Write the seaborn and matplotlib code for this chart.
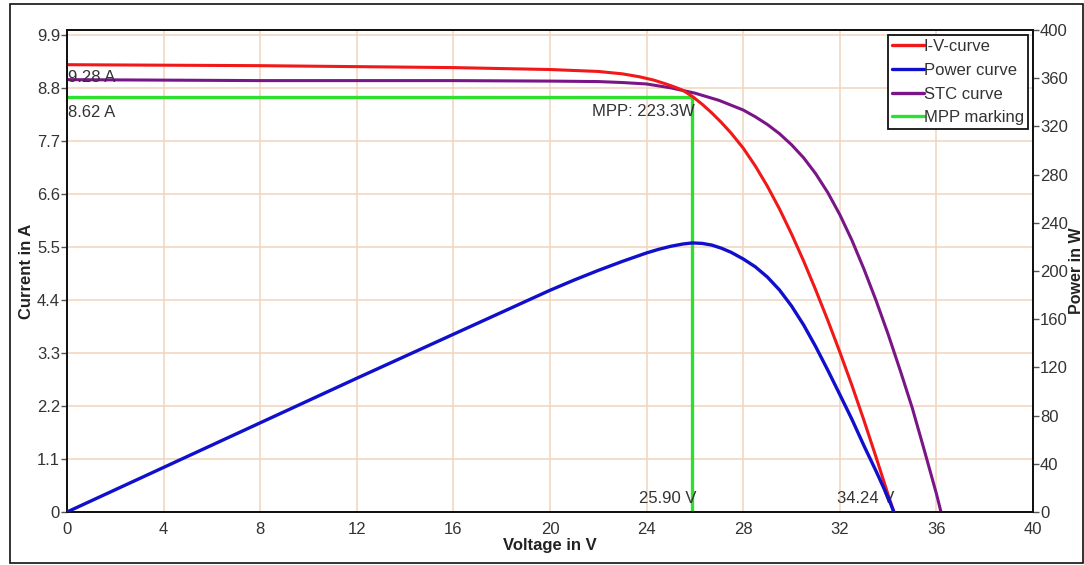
import matplotlib
matplotlib.use("Agg")
import matplotlib.pyplot as plt
import seaborn as sns
import pandas as pd
from matplotlib.patches import Rectangle
from matplotlib.lines import Line2D

# ---------------- data ----------------
voltage_iv = [0, 4, 8, 12, 16, 20, 22, 23, 23.7, 24.3, 24.8, 25.2, 25.5, 25.9,
              26.3, 26.7, 27.1, 27.5, 28, 28.5, 29, 29.5, 30, 30.5, 31, 31.5,
              32, 32.5, 33, 33.5, 34, 34.24]
current_iv = [9.28, 9.27, 9.26, 9.24, 9.22, 9.18, 9.14, 9.09, 9.03, 8.96, 8.88,
              8.81, 8.75, 8.62, 8.46, 8.28, 8.08, 7.86, 7.55, 7.18, 6.76, 6.29,
              5.77, 5.21, 4.61, 3.98, 3.32, 2.63, 1.90, 1.14, 0.36, 0]

voltage_stc = [0, 4, 8, 12, 16, 20, 22, 23, 24, 25, 26, 27, 28, 28.5, 29, 29.5,
               30, 30.5, 31, 31.5, 32, 32.5, 33, 33.5, 34, 34.5, 35, 35.5, 36,
               36.19]
current_stc = [8.97, 8.96, 8.95, 8.95, 8.95, 8.94, 8.93, 8.91, 8.88, 8.80, 8.69,
               8.54, 8.34, 8.20, 8.04, 7.85, 7.62, 7.35, 7.02, 6.63, 6.17, 5.64,
               5.04, 4.39, 3.69, 2.94, 2.16, 1.28, 0.38, 0]

voltage_p = [0, 4, 8, 12, 16, 20, 21, 22, 23, 23.5, 24, 24.5, 25, 25.5, 25.9,
             26.3, 26.7, 27.1, 27.5, 28, 28.5, 29, 29.5, 30, 30.5, 31, 31.5, 32,
             32.5, 33, 33.5, 34, 34.24]
power = [0, 37, 74, 111, 147.5, 184, 192.5, 200.5, 208, 211.5, 215, 218, 220.5,
         222.4, 223.3, 222.9, 221.5, 218.9, 215.5, 210, 203.5, 195, 184.3, 171,
         155.3, 137.3, 117.8, 97.5, 77, 55, 34, 12, 0]

mpp_voltage = 25.90
mpp_current = 8.62
mpp_power = 223.3
isc = 9.28
voc = 34.24

x_ticks = list(range(0, 41, 4))
y_left_ticks = [0, 1.1, 2.2, 3.3, 4.4, 5.5, 6.6, 7.7, 8.8, 9.9]
y_left_labels = ["0", "1.1", "2.2", "3.3", "4.4", "5.5", "6.6", "7.7", "8.8", "9.9"]
y_right_ticks = list(range(0, 401, 40))
legend_labels = ["I-V-curve", "Power curve", "STC curve", "MPP marking"]

# ---------------- style ----------------
sns.set_style("white")
plt.rcParams["font.family"] = ["Liberation Sans", "DejaVu Sans"]

RED = "#f01818"
BLUE = "#1010cc"
PURPLE = "#7a1588"
GREEN = "#2ee02e"
GRID = "#f3d3bd"
TXT = "#333333"

fig = plt.figure(figsize=(10.84, 5.65), dpi=100)
fig.patch.set_facecolor("white")
ax = fig.add_axes([67 / 1084, 1 - 512 / 565, (1033 - 67) / 1084, (512 - 30) / 565])
ax2 = ax.twinx()

df_iv = pd.DataFrame({"V": voltage_iv, "I": current_iv})
df_stc = pd.DataFrame({"V": voltage_stc, "I": current_stc})
df_p = pd.DataFrame({"V": voltage_p, "P": power})

ax.set_xlim(0, 40)
ax.set_ylim(0, 10.0)
ax2.set_ylim(0, 400)
ax.set_xticks(x_ticks)
ax.set_yticks(y_left_ticks)
ax.set_yticklabels(y_left_labels)
ax2.set_yticks(y_right_ticks)
ax.grid(True, color=GRID, linewidth=1.1)
ax.set_axisbelow(True)

# MPP marking (green)
ax.plot([0, mpp_voltage], [mpp_current, mpp_current], color=GREEN, lw=2.4,
        solid_capstyle="butt", zorder=3)
ax.plot([mpp_voltage, mpp_voltage], [mpp_current, 0], color=GREEN, lw=2.4,
        solid_capstyle="butt", zorder=3)

sns.lineplot(data=df_stc, x="V", y="I", ax=ax, color=PURPLE, lw=2.2, sort=False,
             zorder=4)
sns.lineplot(data=df_iv, x="V", y="I", ax=ax, color=RED, lw=2.2, sort=False,
             zorder=5)
sns.lineplot(data=df_p, x="V", y="P", ax=ax2, color=BLUE, lw=2.4, sort=False,
             zorder=5)

# annotations
fs = 12
ax.text(0.05, 9.01, f"{isc:.2f} A", fontsize=fs, color=TXT, va="center", ha="left", zorder=6)
ax.text(0.05, 8.28, f"{mpp_current:.2f} A", fontsize=fs, color=TXT, va="center", ha="left", zorder=6)
ax.text(26.0, 8.30, f"MPP: {mpp_power:.1f}W", fontsize=fs, color=TXT, va="center", ha="right", zorder=6)
ax.text(26.05, 0.28, f"{mpp_voltage:.2f} V", fontsize=fs, color=TXT, va="center", ha="right", zorder=6)
ax.text(34.25, 0.28, f"{voc:.2f} V", fontsize=fs, color=TXT, va="center", ha="right", zorder=6)

# axes styling
for a in (ax, ax2):
    for s in a.spines.values():
        s.set_color("#111111")
        s.set_linewidth(1.3)
ax.tick_params(axis="both", direction="out", length=4, width=1, color="#555555",
               labelsize=fs, labelcolor=TXT, pad=1)
ax2.tick_params(axis="y", direction="out", length=4, width=1, color="#555555",
                labelsize=fs, labelcolor=TXT, pad=1)
ax.tick_params(axis="x", pad=3)

ax.set_xlabel("Voltage in V", fontsize=12, fontweight="bold", color="#222222", labelpad=1)
ax.set_ylabel("Current in A", fontsize=12, fontweight="bold", color="#222222", labelpad=2)
ax2.set_ylabel("Power in W", fontsize=11.5, fontweight="bold", color="#222222", labelpad=1)

# legend
handles = [Line2D([0], [0], color=c, lw=2.4) for c in (RED, BLUE, PURPLE, GREEN)]
leg = ax2.legend(handles, legend_labels, loc="upper right", bbox_to_anchor=(0.9948, 0.9896),
                 fontsize=fs, frameon=True, fancybox=False, framealpha=1,
                 edgecolor="#111111", handlelength=1.9, handletextpad=0.0,
                 labelspacing=0.52, borderpad=0.25, borderaxespad=0)
leg.get_frame().set_linewidth(1.3)
for t in leg.get_texts():
    t.set_color(TXT)
leg.set_zorder(10)

# outer frame
fig.patches.append(Rectangle((10 / 1084, 2 / 565), (1083 - 10) / 1084, (561 - 2) / 565,
                             transform=fig.transFigure, fill=False, edgecolor="#111111",
                             linewidth=1.2))

fig.savefig("out.png", dpi=100, facecolor="white")
